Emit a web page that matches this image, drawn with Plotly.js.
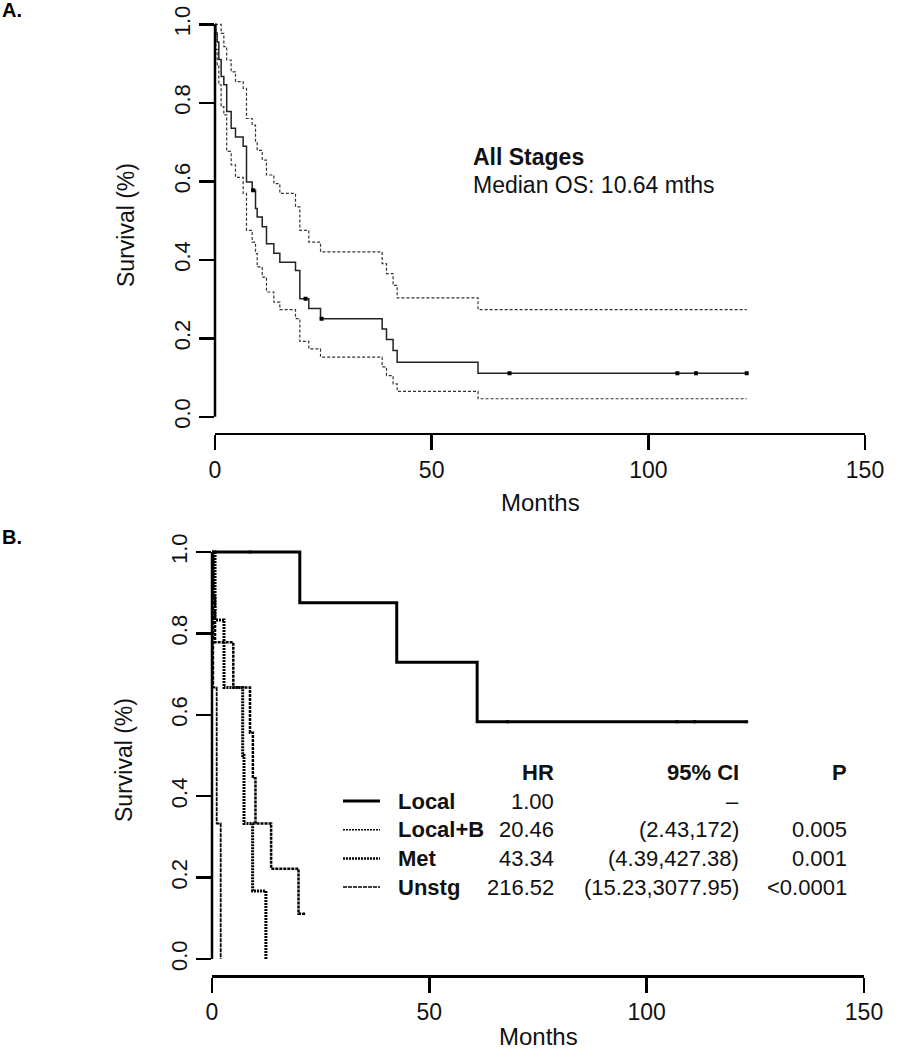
<!DOCTYPE html>
<html><head><meta charset="utf-8">
<script src="https://cdn.plot.ly/plotly-3.0.1.min.js"></script>
<style>html,body{margin:0;padding:0;background:#fff}#chart{width:899px;height:1050px}</style>
</head><body><div id="chart"></div>
<script>
// ---------- Panel A: all stages (KM + 95% CI) ----------
const timeA  = [0,0.2,0.5,0.88,1.42,2.04,2.7,3.73,4.73,6.5,7.27,8.58,9.35,9.73,10.9,11.88,13.58,14.96,18.58,19.58,21.65,24.35,38.58,39.58,41.1,42.04,60.7,122.7];
const survA  = [1,0.978,0.955,0.91,0.867,0.846,0.778,0.735,0.713,0.689,0.598,0.577,0.531,0.509,0.484,0.441,0.417,0.394,0.373,0.301,0.276,0.25,0.224,0.197,0.169,0.139,0.111,0.111];
const upperA = [1,1,1,1,0.977,0.943,0.909,0.879,0.854,0.837,0.76,0.743,0.70,0.679,0.654,0.616,0.594,0.569,0.535,0.475,0.445,0.42,0.39,0.365,0.335,0.303,0.273,0.273];
const lowerA = [1,0.936,0.895,0.846,0.79,0.769,0.676,0.642,0.61,0.569,0.475,0.445,0.416,0.382,0.356,0.318,0.292,0.273,0.25,0.192,0.173,0.152,0.127,0.105,0.084,0.065,0.046,0.046];
const censorA = [8.8,20.9,24.6,67.97,106.7,111.0,122.7];

// ---------- Panel B: by stage ----------
const timeLocal   = [0,20.2,42.5,61,123];
const survLocal   = [1,0.875,0.729,0.583,0.583];
const censorLocal = [8.8,68,107,111,123];
const timeLocalB  = [0,0.3,0.7,4.9,8.74,9.4,10.0,13.6,19.9,21.6];
const survLocalB  = [1,0.889,0.778,0.667,0.556,0.444,0.333,0.222,0.111,0.111];
const timeMet     = [0,0.7,2.76,7.06,7.36,9.35,12.4];
const survMet     = [1,0.833,0.667,0.5,0.333,0.167,0];
const timeUnstg   = [0,0.3,1.08,2.0];
const survUnstg   = [1,0.667,0.333,0];

const groups = ['Local','Local+B','Met','Unstg'];
const hrs    = ['1.00','20.46','43.34','216.52'];
const cis    = ['–','(2.43,172)','(4.39,427.38)','(15.23,3077.95)'];
const pvals  = ['','0.005','0.001','<0.0001'];
const xTicks = [0,50,100,150];
const yTicks = [0,0.2,0.4,0.6,0.8,1.0];

// ---------- layout helpers ----------
const W=899,H=1050;
const FONT='Liberation Sans, Arial, sans-serif';
const PA={left:215,right:865,top:8.6,bottom:432.5};
const PB={left:212,right:864,top:535.7,bottom:975.3};
const px=x=>x/W, py=y=>1-y/H;
function yOf(p,v){return py(p.bottom-(v+0.04)/1.08*(p.bottom-p.top));}
function stepAt(ts,ss,t){let v=ss[0];for(let i=0;i<ts.length;i++){if(ts[i]<=t)v=ss[i];}return v;}

const traces=[
 {x:timeA,y:upperA,xaxis:'x',yaxis:'y',mode:'lines',line:{shape:'hv',color:'#333',width:1.2,dash:'3px,2px'}},
 {x:timeA,y:lowerA,xaxis:'x',yaxis:'y',mode:'lines',line:{shape:'hv',color:'#333',width:1.2,dash:'3px,2px'}},
 {x:timeA,y:survA,xaxis:'x',yaxis:'y',mode:'lines',line:{shape:'hv',color:'#222',width:1.5}},
 {x:censorA,y:censorA.map(t=>stepAt(timeA,survA,t)),xaxis:'x',yaxis:'y',mode:'markers',marker:{symbol:'square',size:4,color:'#000'}},
 {x:timeUnstg,y:survUnstg,xaxis:'x2',yaxis:'y2',mode:'lines',line:{shape:'hv',color:'#000',width:1.8,dash:'4px,1px'}},
 {x:timeMet,y:survMet,xaxis:'x2',yaxis:'y2',mode:'lines',line:{shape:'hv',color:'#000',width:3,dash:'2px,1px'}},
 {x:timeLocalB,y:survLocalB,xaxis:'x2',yaxis:'y2',mode:'lines',line:{shape:'hv',color:'#000',width:2.5,dash:'3px,1px'}},
 {x:timeLocal,y:survLocal,xaxis:'x2',yaxis:'y2',mode:'lines',line:{shape:'hv',color:'#000',width:3}},
 {x:censorLocal,y:censorLocal.map(t=>stepAt(timeLocal,survLocal,t)),xaxis:'x2',yaxis:'y2',mode:'markers',marker:{symbol:'square',size:3,color:'#000'}}
];

function xaxisDef(p){return {domain:[px(p.left),px(p.right)],range:[0,150],tickvals:xTicks,ticks:'outside',ticklen:15,tickwidth:2.5,tickcolor:'#000',showline:true,linewidth:2.5,linecolor:'#000',showgrid:false,zeroline:false,tickfont:{family:FONT,size:23,color:'#111'},fixedrange:true};}
function yaxisDef(p){return {domain:[py(p.bottom),py(p.top)],range:[-0.04,1.04],tickvals:yTicks,tickformat:'.1f',tickangle:-90,ticks:'outside',ticklen:15,tickwidth:2.5,tickcolor:'#000',showline:false,showgrid:false,zeroline:false,tickfont:{family:FONT,size:22,color:'#111'},fixedrange:true};}

const shapes=[
 {type:'line',xref:'paper',yref:'paper',x0:px(PA.left),x1:px(PA.left),y0:yOf(PA,0),y1:yOf(PA,1),line:{color:'#000',width:2.5}},
 {type:'line',xref:'paper',yref:'paper',x0:px(PB.left),x1:px(PB.left),y0:yOf(PB,0),y1:yOf(PB,1),line:{color:'#000',width:2.5}}
];
const keyStyles=[{width:3},{width:1.5,dash:'2px,1px'},{width:2.5,dash:'2px,1px'},{width:1.5,dash:'4px,1px'}];
const rowY=i=>801+i*28.7;
const ann=[];
function T(text,x,y,o){ann.push(Object.assign({text:text,x:px(x),y:py(y),xref:'paper',yref:'paper',showarrow:false,xanchor:'left',yanchor:'middle',font:{family:FONT,size:22,color:'#111'}},o||{}));}
T('<b>A.</b>',0,10,{font:{family:FONT,size:20,color:'#000'}});
T('<b>B.</b>',0,537,{font:{family:FONT,size:20,color:'#000'}});
T('Survival (%)',126,225,{xanchor:'center',textangle:-90,font:{family:FONT,size:23,color:'#111'}});
T('Months',540,502,{xanchor:'center',font:{family:FONT,size:24,color:'#111'}});
T('Survival (%)',124,760,{xanchor:'center',textangle:-90,font:{family:FONT,size:23,color:'#111'}});
T('Months',538,1036,{xanchor:'center',font:{family:FONT,size:24,color:'#111'}});
T('<b>All Stages</b>',471,157,{font:{family:FONT,size:23,color:'#111'}});
T('Median OS: 10.64 mths',471,185,{font:{family:FONT,size:23,color:'#111'}});
T('<b>HR</b>',556,772,{xanchor:'right'});
T('<b>95% CI</b>',741,772,{xanchor:'right'});
T('<b>P</b>',849,772,{xanchor:'right'});
groups.forEach((g,i)=>{
  const y=rowY(i);
  T('<b>'+g+'</b>',396,y);
  T(hrs[i],556,y,{xanchor:'right'});
  T(cis[i],741,y,{xanchor:'right'});
  if(pvals[i])T(pvals[i],849,y,{xanchor:'right'});
  shapes.push({type:'line',xref:'paper',yref:'paper',x0:px(343),x1:px(380),y0:py(y),y1:py(y),line:Object.assign({color:'#000'},keyStyles[i])});
});

const layout={width:W,height:H,margin:{l:0,r:0,t:0,b:0},paper_bgcolor:'#fff',plot_bgcolor:'rgba(0,0,0,0)',showlegend:false,
 xaxis:Object.assign(xaxisDef(PA),{anchor:'y'}),yaxis:Object.assign(yaxisDef(PA),{anchor:'x'}),
 xaxis2:Object.assign(xaxisDef(PB),{anchor:'y2'}),yaxis2:Object.assign(yaxisDef(PB),{anchor:'x2'}),
 shapes:shapes,annotations:ann,font:{family:FONT}};
Plotly.newPlot('chart',traces,layout,{staticPlot:true,displayModeBar:false});
</script></body></html>
